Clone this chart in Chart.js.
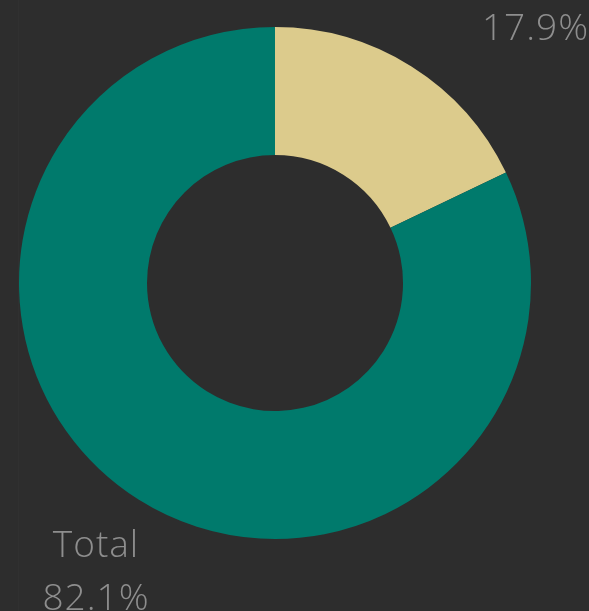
<!DOCTYPE html>
<html>
<head>
<meta charset="utf-8">
<script src="https://cdn.jsdelivr.net/npm/chart.js@4/dist/chart.umd.min.js"></script>
<style>
  html, body { margin: 0; padding: 0; background: #2d2d2d; }
  #wrap { position: relative; width: 589px; height: 611px; }
  #wrap::before { content: ''; position: absolute; left: 18px; top: 0; bottom: 0; width: 1px; background: #303030; }
</style>
</head>
<body>
<div id="wrap"><canvas id="chart" width="589" height="611"></canvas></div>
<script>
// chart data
const categories = ['Other', 'Total'];
const values = [17.9, 82.1];
const colors = ['#dccb8c', '#007a6c'];
const showName = [false, true];

// label anchors (text only), relative to canvas
const labelPos = [
    { x: 588, y: 40, align: 'right' },
    { x: 96, y: 557, align: 'center' }
];

const outsideLabels = {
    id: 'outsideLabels',
    afterDatasetsDraw(chart) {
        const ctx = chart.ctx;
        ctx.save();
        ctx.fillStyle = '#8e8e8e';
        ctx.font = '300 37px "Open Sans", sans-serif';
        ctx.letterSpacing = '1px';
        ctx.textBaseline = 'alphabetic';
        chart.data.datasets[0].data.forEach((v, i) => {
            const p = labelPos[i];
            ctx.textAlign = p.align;
            const pct = v.toFixed(1) + '%';
            if (showName[i]) {
                ctx.fillText(categories[i], p.x, p.y);
                ctx.fillText(pct, p.x, p.y + 53);
            } else {
                ctx.fillText(pct, p.x + 1, p.y);
            }
        });
        ctx.restore();
    }
};

new Chart(document.getElementById('chart'), {
    type: 'doughnut',
    data: {
        labels: categories,
        datasets: [{
            data: values,
            backgroundColor: colors,
            borderWidth: 0
        }]
    },
    options: {
        responsive: false,
        animation: false,
        cutout: '50%',
        layout: {
            padding: { left: 19, right: 58, top: 27, bottom: 72 }
        },
        plugins: {
            legend: { display: false },
            tooltip: { enabled: false }
        }
    },
    plugins: [outsideLabels]
});
</script>
</body>
</html>
